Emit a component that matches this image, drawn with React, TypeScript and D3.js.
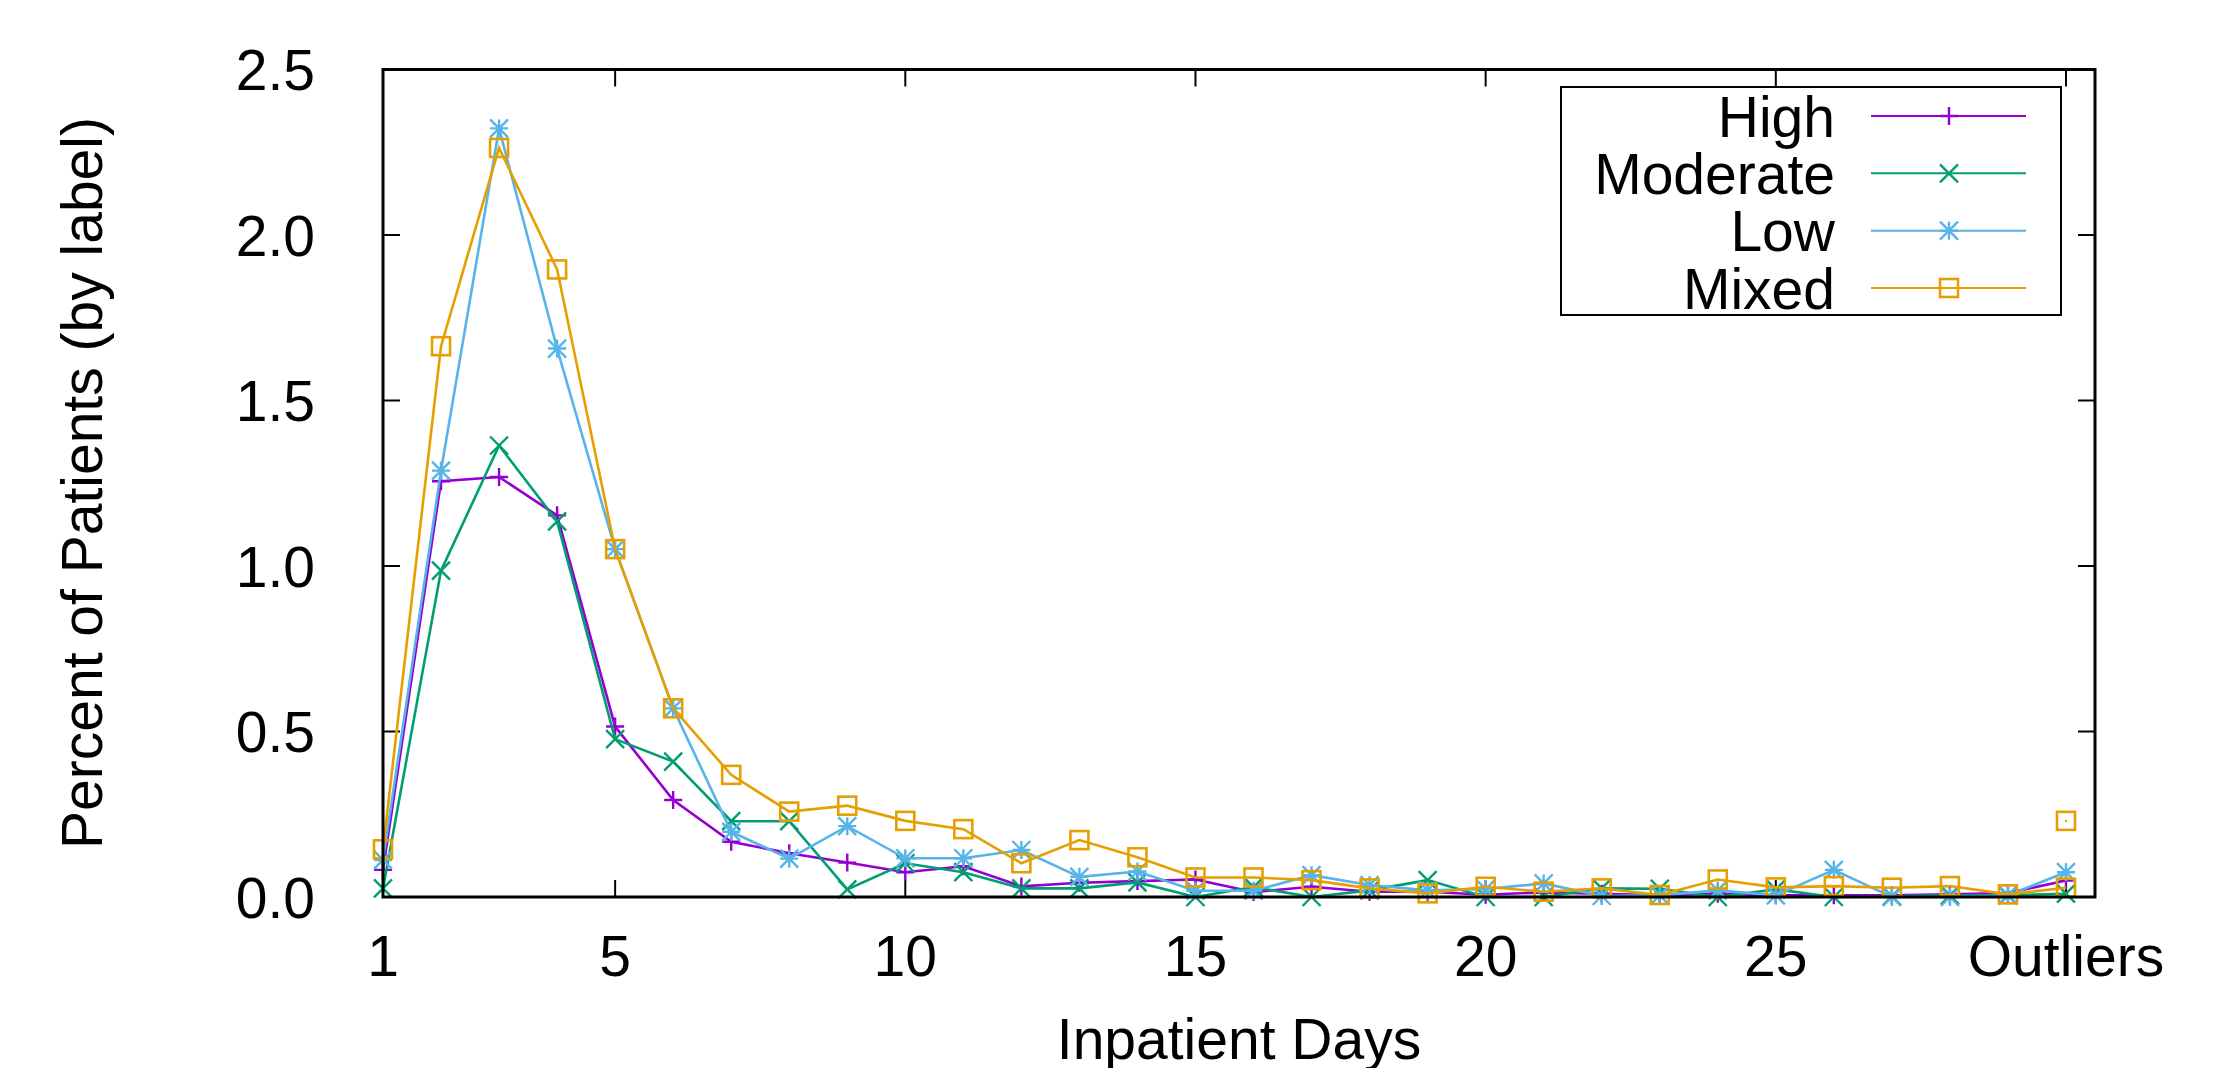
import React from "react";
import * as d3 from "d3";

const days = [1, 2, 3, 4, 5, 6, 7, 8, 9, 10, 11, 12, 13, 14, 15, 16, 17, 18, 19, 20, 21, 22, 23, 24, 25, 26, 27, 28, 29, 30];

const highValues = [0.082, 1.256, 1.269, 1.153, 0.515, 0.293, 0.167, 0.132, 0.104, 0.075, 0.093, 0.032, 0.043, 0.048, 0.053, 0.015, 0.031, 0.016, 0.016, 0.007, 0.014, 0.01, 0.005, 0.01, 0.005, 0.005, 0.005, 0.008, 0.012, 0.05];
const moderateValues = [0.026, 0.986, 1.364, 1.135, 0.477, 0.409, 0.229, 0.229, 0.023, 0.102, 0.075, 0.026, 0.026, 0.044, 0.0, 0.03, 0.0, 0.02, 0.051, 0.0, 0.0, 0.026, 0.025, 0.0, 0.023, 0.0, 0.002, 0.005, 0.005, 0.01];
const lowValues = [0.112, 1.288, 2.322, 1.657, 1.051, 0.57, 0.197, 0.116, 0.214, 0.117, 0.117, 0.142, 0.061, 0.077, 0.019, 0.019, 0.066, 0.036, 0.02, 0.024, 0.041, 0.003, 0.005, 0.02, 0.005, 0.082, 0.0, 0.0, 0.005, 0.075];
const mixedValues = [0.144, 1.664, 2.263, 1.896, 1.051, 0.57, 0.369, 0.258, 0.276, 0.23, 0.205, 0.102, 0.172, 0.12, 0.059, 0.059, 0.051, 0.026, 0.011, 0.031, 0.016, 0.026, 0.006, 0.053, 0.029, 0.033, 0.028, 0.033, 0.008, 0.028];
const mixedExtraDays = [30];
const mixedExtraValues = [0.23];

const seriesNames = ["High", "Moderate", "Low", "Mixed"];
const seriesColors = ["#9400d3", "#009e73", "#56b4e9", "#e69f00"];
const seriesMarkers = ["plus", "cross", "star", "square"];
const seriesValues = [highValues, moderateValues, lowValues, mixedValues];

const xTickValues = [1, 5, 10, 15, 20, 25, 30];
const xTickLabels = ["1", "5", "10", "15", "20", "25", "Outliers"];
const yTickValues = [0, 0.5, 1.0, 1.5, 2.0, 2.5];

const W = 2227;
const H = 1068;
const left = 383;
const right = 2095;
const top = 69.5;
const bottom = 897;
const FONT = "'Liberation Sans', Arial, Helvetica, sans-serif";
const FS = 57;
const MS = 9;
const LW = 2.6;

function Marker({ kind, x, y, color }: { kind: string; x: number; y: number; color: string }) {
  const s = MS;
  if (kind === "plus") {
    return <path d={`M${x - s},${y}H${x + s}M${x},${y - s}V${y + s}`} stroke={color} strokeWidth={2.4} fill="none" />;
  }
  if (kind === "cross") {
    return <path d={`M${x - s},${y - s}L${x + s},${y + s}M${x - s},${y + s}L${x + s},${y - s}`} stroke={color} strokeWidth={2.4} fill="none" />;
  }
  if (kind === "star") {
    return (
      <path
        d={`M${x - s},${y}H${x + s}M${x},${y - s}V${y + s}M${x - s},${y - s}L${x + s},${y + s}M${x - s},${y + s}L${x + s},${y - s}`}
        stroke={color}
        strokeWidth={2.4}
        fill="none"
      />
    );
  }
  return <rect x={x - s} y={y - s} width={2 * s} height={2 * s} stroke={color} strokeWidth={2.6} fill="none" />;
}

export default function App() {
  const x = d3.scaleLinear().domain([1, 30.5]).range([left, right]);
  const y = d3.scaleLinear().domain([0, 2.5]).range([bottom, top]);
  const line = d3
    .line<number>()
    .x((_, i) => x(days[i]))
    .y((d) => y(d));

  const tickLen = 17;
  const legX = 1561;
  const legY = 87;
  const legW = 500;
  const legH = 228;
  const rowY = [116, 173.3, 230.7, 288];

  return (
    <div style={{ position: "absolute", left: 0, top: 0, width: W, height: H, background: "#fff" }}>
      <svg width={W} height={H} viewBox={`0 0 ${W} ${H}`} style={{ display: "block", fontFamily: FONT }}>
        <rect x={0} y={0} width={W} height={H} fill="#fff" />
        {yTickValues.map((v) => (
          <g key={"yt" + v}>
            <line x1={left} x2={left + tickLen} y1={y(v)} y2={y(v)} stroke="#000" strokeWidth={2} />
            <line x1={right} x2={right - tickLen} y1={y(v)} y2={y(v)} stroke="#000" strokeWidth={2} />
            <text x={315} y={y(v)} dy="0.36em" textAnchor="end" fontSize={FS} fill="#000">
              {v.toFixed(1)}
            </text>
          </g>
        ))}
        {xTickValues.map((v, i) => (
          <g key={"xt" + v}>
            <line x1={x(v)} x2={x(v)} y1={bottom} y2={bottom - tickLen} stroke="#000" strokeWidth={2} />
            <line x1={x(v)} x2={x(v)} y1={top} y2={top + tickLen} stroke="#000" strokeWidth={2} />
            <text x={x(v)} y={976} textAnchor="middle" fontSize={FS} fill="#000">
              {xTickLabels[i]}
            </text>
          </g>
        ))}
        {seriesValues.map((vals, si) => (
          <g key={seriesNames[si]}>
            <path d={line(vals) || ""} fill="none" stroke={seriesColors[si]} strokeWidth={LW} strokeLinejoin="miter" />
            {vals.map((v, i) => (
              <Marker key={i} kind={seriesMarkers[si]} x={x(days[i])} y={y(v)} color={seriesColors[si]} />
            ))}
          </g>
        ))}
        {mixedExtraDays.map((d, i) => (
          <g key={"mx" + i}>
            <Marker kind="square" x={x(d)} y={y(mixedExtraValues[i])} color={seriesColors[3]} />
            <rect x={x(d) - 1} y={y(mixedExtraValues[i]) - 1} width={2} height={2} fill={seriesColors[3]} />
          </g>
        ))}
        <rect x={left} y={top} width={right - left} height={bottom - top} fill="none" stroke="#000" strokeWidth={3} />
        <rect x={legX} y={legY} width={legW} height={legH} fill="#fff" stroke="#000" strokeWidth={2} />
        {seriesNames.map((n, i) => (
          <g key={"lg" + n}>
            <text x={1835} y={rowY[i]} dy="0.36em" textAnchor="end" fontSize={FS} fill="#000">
              {n}
            </text>
            <line x1={1871} x2={2026} y1={rowY[i]} y2={rowY[i]} stroke={seriesColors[i]} strokeWidth={2} />
            <Marker kind={seriesMarkers[i]} x={1949} y={rowY[i]} color={seriesColors[i]} />
          </g>
        ))}
        <text x={1239} y={1059} textAnchor="middle" fontSize={FS} fill="#000">
          Inpatient Days
        </text>
        <text transform={`translate(81, 483) rotate(-90)`} textAnchor="middle" dy="0.36em" fontSize={FS} fill="#000">
          Percent of Patients (by label)
        </text>
      </svg>
    </div>
  );
}
